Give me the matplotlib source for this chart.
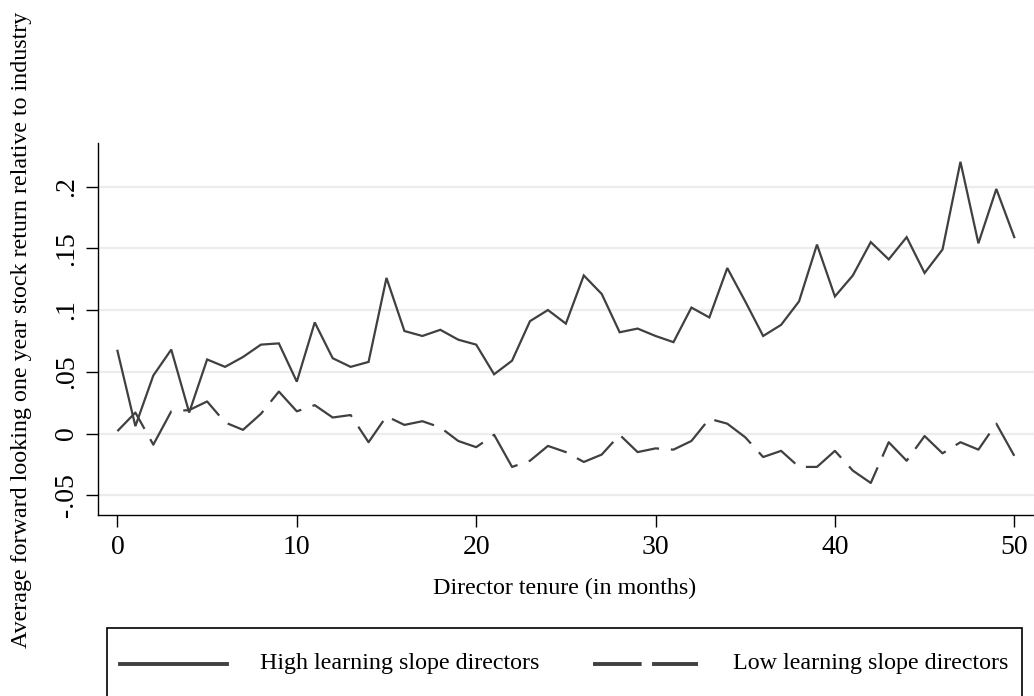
import numpy as np
import matplotlib.pyplot as plt
from matplotlib.lines import Line2D
from matplotlib.patches import Rectangle

plt.rcParams['font.family'] = ['Liberation Serif', 'DejaVu Serif']

# tenure in months, 0..50
tenure = list(range(51))

high_slope = [0.067, 0.006, 0.047, 0.068, 0.017, 0.060, 0.054, 0.062, 0.072, 0.073,
              0.042, 0.090, 0.061, 0.054, 0.058, 0.126, 0.083, 0.079, 0.084, 0.076,
              0.072, 0.048, 0.059, 0.091, 0.100, 0.089, 0.128, 0.113, 0.082, 0.085,
              0.079, 0.074, 0.102, 0.094, 0.134, 0.107, 0.079, 0.088, 0.107, 0.153,
              0.111, 0.128, 0.155, 0.141, 0.159, 0.130, 0.149, 0.220, 0.154, 0.198,
              0.159]

low_slope = [0.002, 0.017, -0.009, 0.018, 0.019, 0.026, 0.009, 0.003, 0.016, 0.034,
             0.018, 0.023, 0.013, 0.015, -0.007, 0.014, 0.007, 0.010, 0.005, -0.006,
             -0.011, -0.001, -0.027, -0.022, -0.010, -0.015, -0.023, -0.017, -0.001, -0.015,
             -0.012, -0.013, -0.006, 0.012, 0.008, -0.003, -0.019, -0.014, -0.027, -0.027,
             -0.014, -0.030, -0.040, -0.007, -0.022, -0.002, -0.016, -0.007, -0.013, 0.008,
             -0.018]

yticks = [-0.05, 0, 0.05, 0.1, 0.15, 0.2]
ytick_labels = ['-.05', '0', '.05', '.1', '.15', '.2']
xticks = [0, 10, 20, 30, 40, 50]

series_labels = ['High learning slope directors', 'Low learning slope directors']

line_color = '#404040'
dash_pattern = (0, (32, 8.5))

plt.rcParams['lines.scale_dashes'] = False

fig = plt.figure(figsize=(10.34, 6.96), dpi=100)
ax = fig.add_axes([0.0945, 0.2601, 0.9055, 0.5344])

ax.plot(tenure, high_slope, color=line_color, lw=1.6, solid_joinstyle='miter')
ax.plot(tenure, low_slope, color=line_color, lw=1.6, linestyle=dash_pattern)

ax.set_xlim(-1.1, 51.1)
ax.set_ylim(-0.0659, 0.2352)

ax.set_yticks(yticks)
ax.set_yticklabels(ytick_labels, rotation=90, va='center', ha='right')
ax.set_xticks(xticks)

ax.grid(axis='y', color='#ececec', lw=1.6)
ax.set_axisbelow(True)
for s in ['top', 'right']:
    ax.spines[s].set_visible(False)
for s in ['left', 'bottom']:
    ax.spines[s].set_linewidth(1.0)

ax.tick_params(axis='both', length=8.6, width=1.0, labelsize=20)
ax.tick_params(axis='y', pad=5)
ax.tick_params(axis='x', pad=6)

W, H = 1034, 696

ax.set_xlabel('Director tenure (in months)', fontsize=17.3)
ax.xaxis.set_label_coords(565 / W, 1 - 588 / H, transform=fig.transFigure)
ax.xaxis.label.set_va('center')
ax.set_ylabel('Average forward looking one year stock return relative to industry', fontsize=17.3)
ax.yaxis.set_label_coords(22 / W, 1 - 330 / H, transform=fig.transFigure)
ax.yaxis.label.set_va('center')
ax.yaxis.label.set_ha('center')

# legend box below the plot, running off the bottom edge
fig.add_artist(Rectangle((107 / W, -0.05), (1022 - 107) / W, 0.05 + (H - 628) / H,
                         transform=fig.transFigure, fill=False, ec='black', lw=1.2))
ly = 1 - 664 / H
fig.add_artist(Line2D([120 / W, 227 / W], [ly, ly], transform=fig.transFigure,
                      color=line_color, lw=2.8))
fig.add_artist(Line2D([593 / W, 698 / W], [ly, ly], transform=fig.transFigure,
                      color=line_color, lw=2.8, linestyle=(0, (35, 7.5))))
fig.text(260 / W, ly, series_labels[0], fontsize=17.3, va='center', ha='left')
fig.text(733 / W, ly, series_labels[1], fontsize=17.3, va='center', ha='left')

fig.savefig('out.png', dpi=100)
